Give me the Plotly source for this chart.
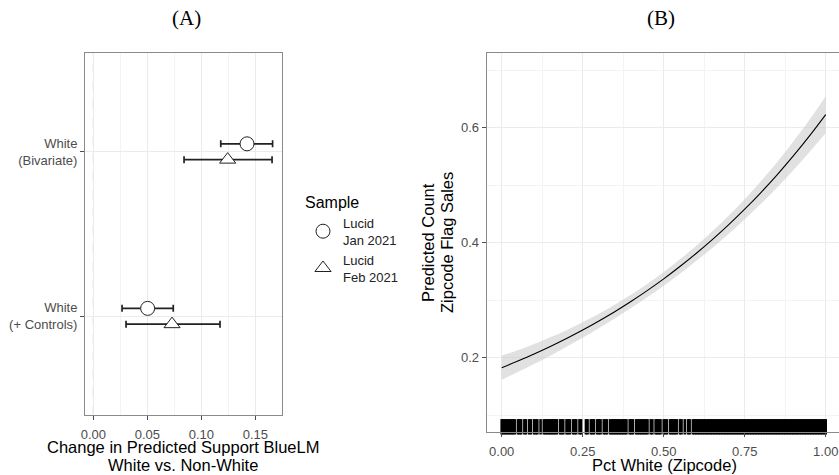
import plotly.graph_objects as go

# ---------------- Panel A data ----------------
categories = ["White<br>(+ Controls)", "White<br>(Bivariate)"]
cat_pos = [1, 2]
samples = ["Lucid<br>Jan 2021", "Lucid<br>Feb 2021"]
est_jan = [0.0503, 0.1423]
lo_jan = [0.0266, 0.1180]
hi_jan = [0.0740, 0.1660]
est_feb = [0.0729, 0.1244]
lo_feb = [0.0303, 0.0840]
hi_feb = [0.1173, 0.1655]
a_xticks = [0.00, 0.05, 0.10, 0.15]
a_xticklabels = ["0.00", "0.05", "0.10", "0.15"]

# ---------------- Panel B data ----------------
pct_white = [0.00, 0.05, 0.10, 0.15, 0.20, 0.25, 0.30, 0.35, 0.40, 0.45, 0.50,
             0.55, 0.60, 0.65, 0.70, 0.75, 0.80, 0.85, 0.90, 0.95, 1.00]
pred_count = [0.1826, 0.1942, 0.2064, 0.2195, 0.2334, 0.2481, 0.2639, 0.2805, 0.2983, 0.3172, 0.3372,
              0.3586, 0.3813, 0.4054, 0.4310, 0.4583, 0.4873, 0.5181, 0.5509, 0.5858, 0.6228]
pred_lower = [0.1616, 0.1752, 0.1889, 0.2035, 0.2189, 0.2346, 0.2514, 0.2685, 0.2868, 0.3057, 0.3252,
              0.3461, 0.3683, 0.3909, 0.4150, 0.4408, 0.4678, 0.4961, 0.5259, 0.5578, 0.5908]
pred_upper = [0.2036, 0.2132, 0.2239, 0.2355, 0.2479, 0.2616, 0.2764, 0.2925, 0.3098, 0.3287, 0.3492,
              0.3711, 0.3943, 0.4199, 0.4470, 0.4758, 0.5068, 0.5401, 0.5759, 0.6138, 0.6548]
rug_x = [
    0.000, 0.005, 0.010, 0.015, 0.020, 0.025, 0.030, 0.035, 0.040, 0.050, 0.055, 0.060,
    0.070, 0.075, 0.085, 0.090, 0.100, 0.105, 0.110, 0.120, 0.130, 0.135, 0.140, 0.145,
    0.150, 0.155, 0.160, 0.165, 0.170, 0.180, 0.185, 0.190, 0.200, 0.205, 0.210, 0.220,
    0.225, 0.230, 0.240, 0.245, 0.260, 0.265, 0.275, 0.280, 0.285, 0.295, 0.300, 0.305,
    0.315, 0.320, 0.325, 0.335, 0.340, 0.345, 0.350, 0.355, 0.360, 0.365, 0.370, 0.375,
    0.380, 0.385, 0.395, 0.400, 0.405, 0.415, 0.420, 0.425, 0.430, 0.435, 0.440, 0.445,
    0.450, 0.460, 0.465, 0.475, 0.480, 0.485, 0.490, 0.500, 0.505, 0.510, 0.520, 0.525,
    0.530, 0.535, 0.540, 0.550, 0.555, 0.565, 0.575, 0.580, 0.590, 0.595, 0.600, 0.605,
    0.610, 0.615, 0.620, 0.625, 0.630, 0.635, 0.640, 0.645, 0.650, 0.655, 0.660, 0.665,
    0.670, 0.675, 0.680, 0.685, 0.690, 0.695, 0.700, 0.705, 0.710, 0.715, 0.720, 0.725,
    0.730, 0.735, 0.740, 0.745, 0.750, 0.755, 0.760, 0.765, 0.770, 0.775, 0.780, 0.785,
    0.790, 0.795, 0.800, 0.805, 0.810, 0.815, 0.820, 0.825, 0.830, 0.835, 0.840, 0.845,
    0.850, 0.855, 0.860, 0.865, 0.870, 0.875, 0.880, 0.885, 0.890, 0.895, 0.900, 0.905,
    0.910, 0.915, 0.920, 0.925, 0.930, 0.935, 0.940, 0.945, 0.950, 0.955, 0.960, 0.965,
    0.970, 0.975, 0.980, 0.985, 0.990, 0.995, 1.000,
]
b_xticks = [0.00, 0.25, 0.50, 0.75, 1.00]
b_xticklabels = ["0.00", "0.25", "0.50", "0.75", "1.00"]
b_yticks = [0.2, 0.4, 0.6]
b_yticklabels = ["0.2", "0.4", "0.6"]

# ---------------- style ----------------
W, H = 839, 475
FONT = "Liberation Sans, Arial, sans-serif"
SERIF = "Liberation Serif, Times New Roman, serif"
GRID = "#ebebeb"
MINOR = "#f3f3f3"
BORDER = "#8a8a8a"
TICKC = "#4d4d4d"
DODGE = 0.048
TICK_FS = 13
TITLE_FS = 16.5

A_XR = [-0.0077, 0.1747]
A_YR = [0.4, 2.6]
B_XR = [-0.0463, 1.041]
B_YR = [0.0703, 0.7294]
A_DOM_X = [85 / W, 282 / W]
A_DOM_Y = [1 - 415 / H, 1 - 53 / H]
B_DOM_X = [486.7 / W, 1.0]
B_DOM_Y = [1 - 432.3 / H, 1 - 53.3 / H]

fig = go.Figure()

# Panel A
def errs(est, lo, hi):
    return [h - e for e, h in zip(est, hi)], [e - l for e, l in zip(est, lo)]

p_jan, m_jan = errs(est_jan, lo_jan, hi_jan)
p_feb, m_feb = errs(est_feb, lo_feb, hi_feb)

fig.add_trace(go.Scatter(
    x=est_jan, y=[c + DODGE for c in cat_pos], mode="markers", name=samples[0],
    marker=dict(symbol="circle", size=14, color="white", line=dict(color="#222", width=1)),
    error_x=dict(type="data", array=p_jan, arrayminus=m_jan, color="#222", thickness=1.7, width=3.5),
    xaxis="x", yaxis="y", showlegend=True))
fig.add_trace(go.Scatter(
    x=est_feb, y=[c - DODGE for c in cat_pos], mode="markers", name=samples[1],
    marker=dict(symbol="triangle-up", size=14, color="white", line=dict(color="#222", width=1)),
    error_x=dict(type="data", array=p_feb, arrayminus=m_feb, color="#222", thickness=1.7, width=3.5),
    xaxis="x", yaxis="y", showlegend=True))

# Panel B
fig.add_trace(go.Scatter(x=pct_white, y=pred_upper, mode="lines", line=dict(width=0, shape="spline"),
                         xaxis="x2", yaxis="y2", showlegend=False, hoverinfo="skip"))
fig.add_trace(go.Scatter(x=pct_white, y=pred_lower, mode="lines", line=dict(width=0, shape="spline"),
                         fill="tonexty", fillcolor="rgba(200,200,200,0.55)",
                         xaxis="x2", yaxis="y2", showlegend=False, hoverinfo="skip"))
fig.add_trace(go.Scatter(x=pct_white, y=pred_count, mode="lines", line=dict(color="black", width=1.1, shape="spline"),
                         xaxis="x2", yaxis="y2", showlegend=False))
rug_len_px = 11
b_span_px = (B_DOM_Y[1] - B_DOM_Y[0]) * H
rug_y = B_YR[0] + (B_YR[1] - B_YR[0]) * (rug_len_px / 2) / b_span_px
fig.add_trace(go.Scatter(x=rug_x, y=[rug_y] * len(rug_x), mode="markers",
                         marker=dict(symbol="line-ns", size=rug_len_px, color="black",
                                     line=dict(color="black", width=2.6)),
                         xaxis="x2", yaxis="y2", showlegend=False, cliponaxis=False))

axis_common = dict(showgrid=True, gridcolor=GRID, gridwidth=1, zeroline=False,
                   showline=True, linecolor=BORDER, linewidth=1, automargin=False,
                   ticks="outside", ticklen=4, tickcolor=TICKC, tickwidth=1,
                   tickfont=dict(family=FONT, size=TICK_FS, color=TICKC))

def ann(text, x, y, size, family=FONT, angle=0):
    return dict(text=text, x=x / W, y=1 - y / H, xref="paper", yref="paper", showarrow=False,
                xanchor="center", yanchor="middle", textangle=angle,
                font=dict(family=family, size=size, color="black"))

fig.update_layout(
    width=W, height=H, margin=dict(l=0, r=0, t=0, b=0),
    plot_bgcolor="white", paper_bgcolor="white",
    font=dict(family=FONT),
    xaxis=dict(domain=A_DOM_X, range=A_XR, tickvals=a_xticks, ticktext=a_xticklabels,
               mirror=True, anchor="y", ticklabelstandoff=3,
               minor=dict(dtick=0.025, tick0=0.025, showgrid=True, gridcolor=MINOR, gridwidth=1, ticks=""),
               **axis_common),
    yaxis=dict(domain=A_DOM_Y, range=A_YR, tickvals=cat_pos, ticktext=categories,
               mirror=True, anchor="x", **axis_common),
    xaxis2=dict(domain=B_DOM_X, range=B_XR, tickvals=b_xticks, ticktext=b_xticklabels,
                mirror=True, anchor="y2", ticklabelstandoff=3,
                minor=dict(dtick=0.125, tick0=0.125, showgrid=True, gridcolor=MINOR, gridwidth=1, ticks=""),
                **axis_common),
    yaxis2=dict(domain=B_DOM_Y, range=B_YR, tickvals=b_yticks, ticktext=b_yticklabels,
                mirror=False, anchor="x2",
                minor=dict(dtick=0.2, tick0=0.1, showgrid=True, gridcolor=MINOR, gridwidth=1, ticks=""),
                **axis_common),
    legend=dict(x=303 / W, y=1 - 187 / H, xanchor="left", yanchor="top", traceorder="normal",
                title=dict(text="Sample", font=dict(family=FONT, size=16, color="black")),
                font=dict(family=FONT, size=13, color="#222"), bgcolor="rgba(0,0,0,0)",
                tracegroupgap=0, itemwidth=30),
    shapes=[
        dict(type="line", xref="x", yref="paper", x0=0, x1=0, y0=A_DOM_Y[0], y1=A_DOM_Y[1],
             line=dict(color="#bbbbbb", width=1, dash="dash"), layer="below"),
    ],
    annotations=[
        ann("(A)", 186.7, 18, 21, SERIF),
        ann("(B)", 661, 18, 21, SERIF),
        ann("Change in Predicted Support BlueLM", 182.7, 447, TITLE_FS),
        ann("White vs. Non-White", 182.7, 465, TITLE_FS),
        ann("Pct White (Zipcode)", 664, 465, TITLE_FS),
        ann("Predicted Count", 428, 243, TITLE_FS, angle=-90),
        ann("Zipcode Flag Sales", 447, 243, TITLE_FS, angle=-90),
    ],
)

fig.write_html("out.html", config={"displayModeBar": False},
               post_script="document.body.style.margin='0px';document.body.style.overflow='hidden';")
